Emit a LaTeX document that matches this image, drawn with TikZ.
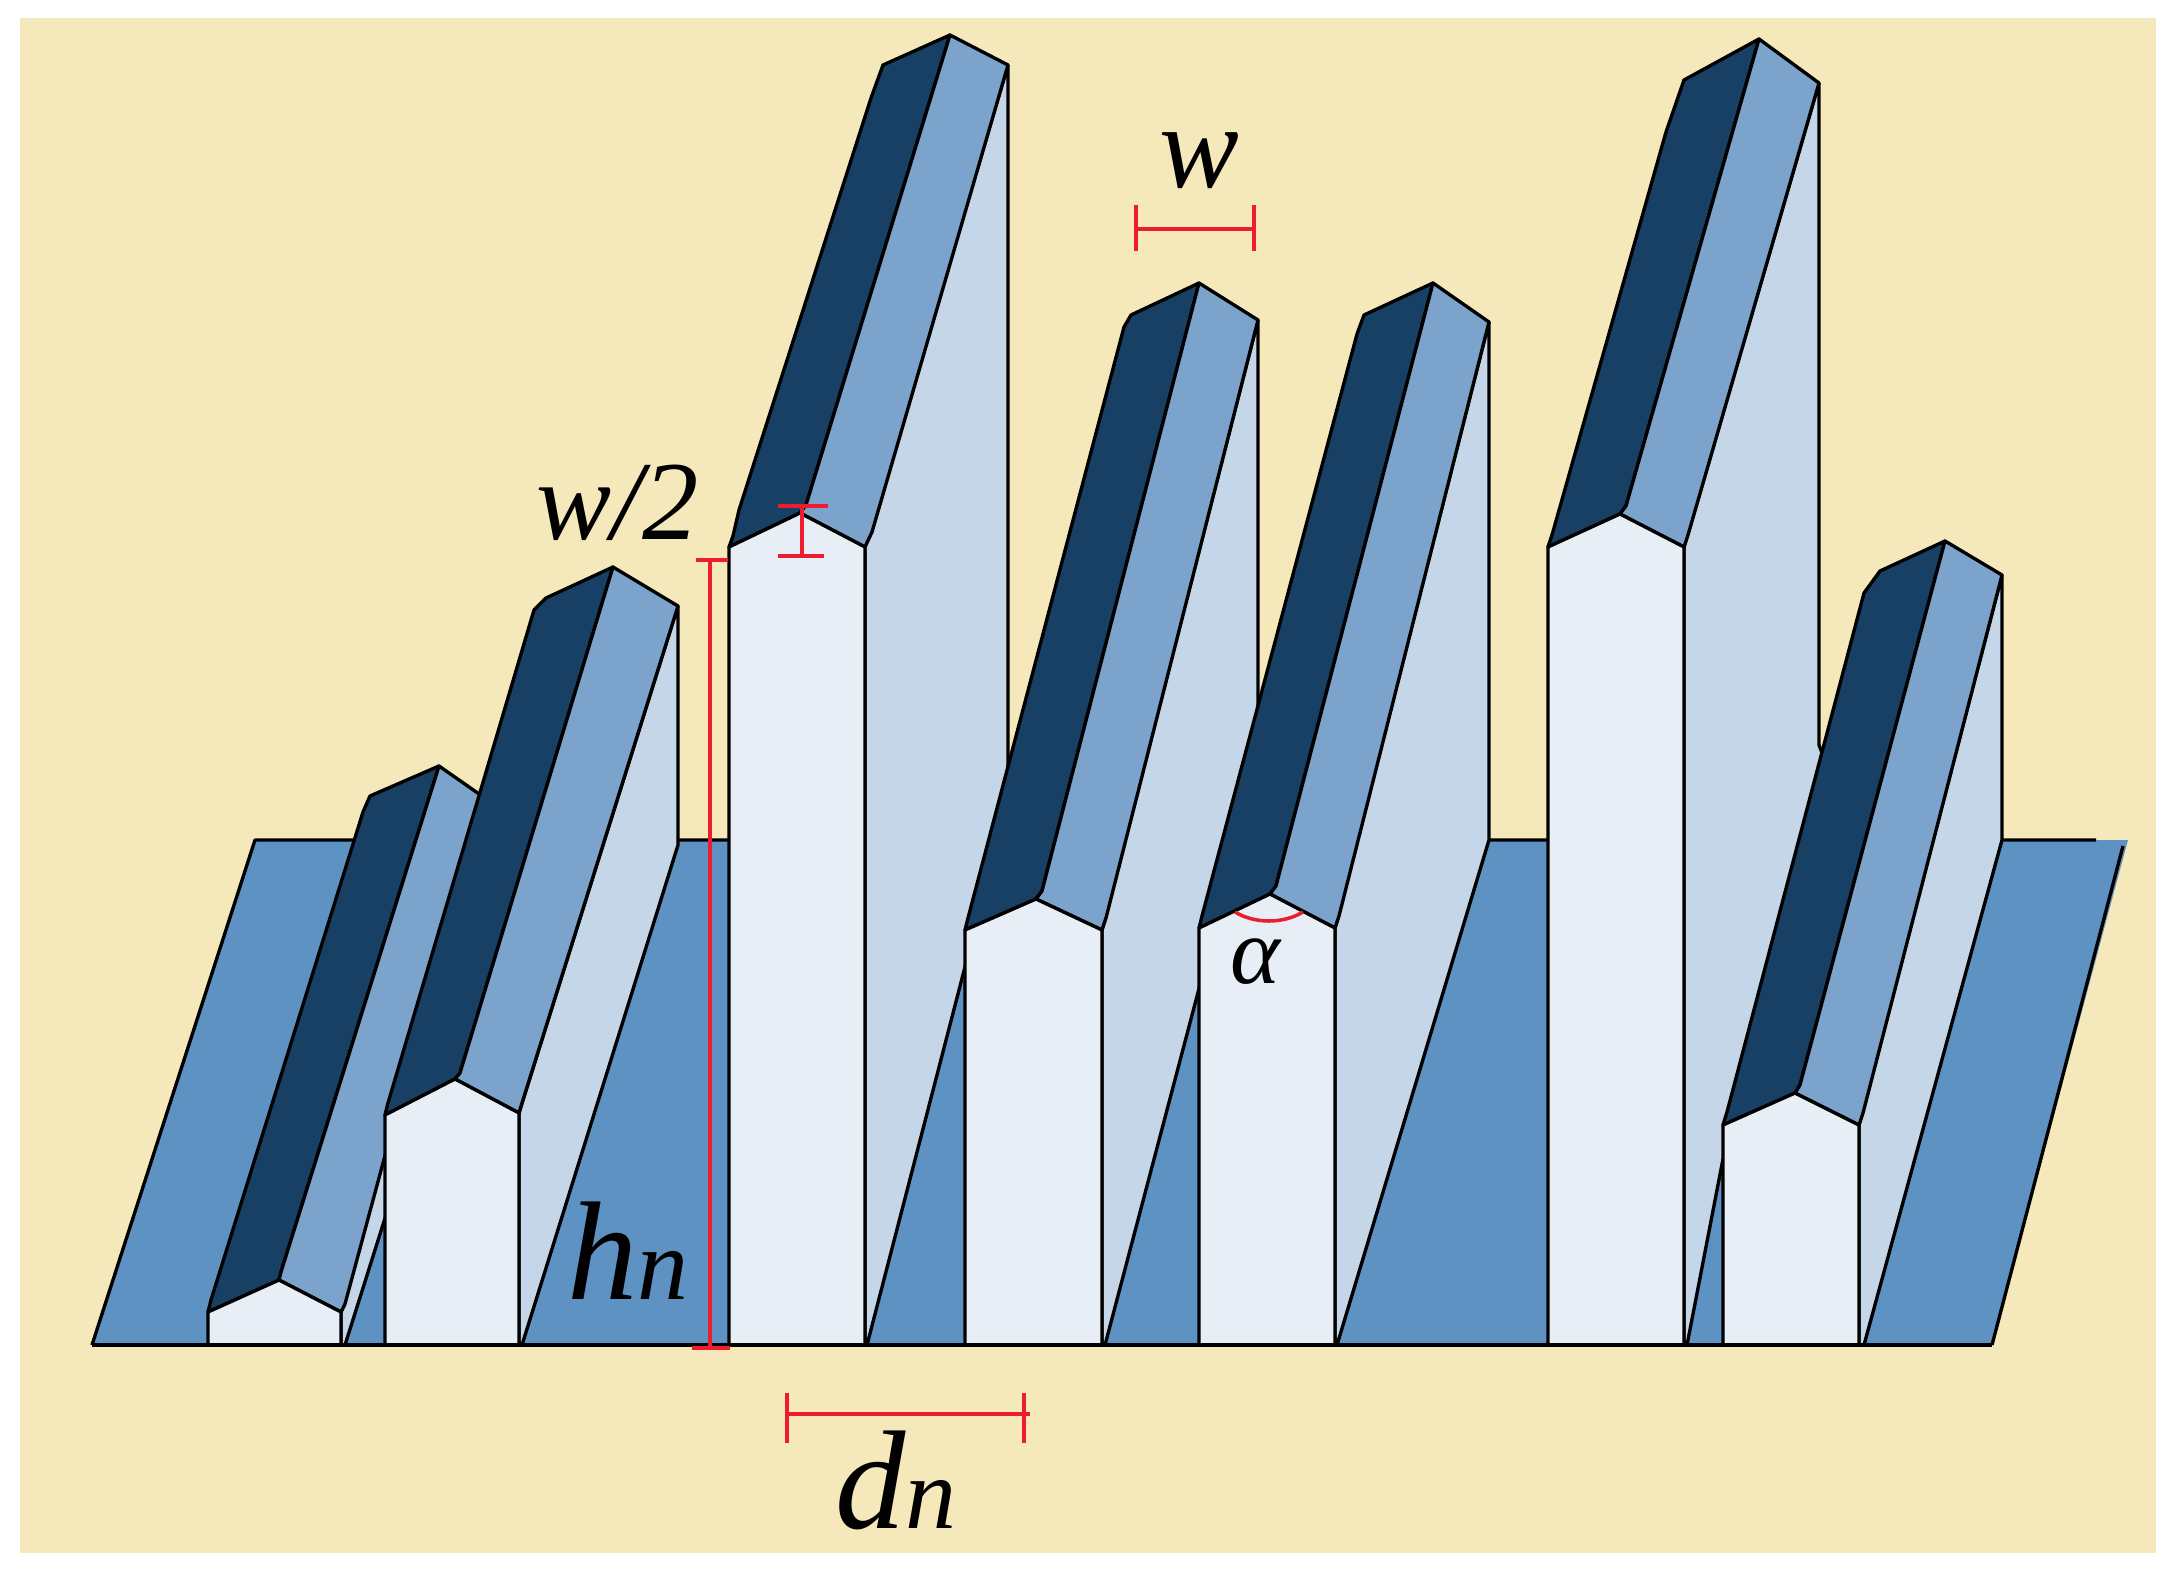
\documentclass[tikz,border=0pt]{standalone}
\usepackage{fontspec}
\setmainfont{Liberation Serif}
\definecolor{creamc}{HTML}{F5E8BA}
\definecolor{planec}{HTML}{5E92C2}
\definecolor{darkc}{HTML}{174064}
\definecolor{midc}{HTML}{7BA3CC}
\definecolor{sidec}{HTML}{C6D6E9}
\definecolor{frontc}{HTML}{E7EEF6}
\definecolor{redc}{HTML}{ED1C2E}
\newcommand{\lblbig}{\fontsize{40}{48}\selectfont\itshape}
\newcommand{\lblsub}{\fontsize{29}{34}\selectfont\itshape}
\tikzset{
  edge/.style={draw=black,line width=0.95pt,line join=round},
  sidef/.style={edge,fill=sidec},
  darkf/.style={edge,fill=darkc},
  midf/.style={edge,fill=midc},
  frontf/.style={edge,fill=frontc},
  planef/.style={fill=planec},
  dim/.style={draw=redc,line width=1pt},
  lab/.style={anchor=base west,inner sep=0pt,outer sep=0pt,text=black}
}
\begin{document}
\begin{tikzpicture}[x=0.01cm,y=-0.01cm]
\useasboundingbox (0,0) rectangle (2177,1569);
\fill[white] (0,0) rectangle (2177,1569);
\fill[creamc] (20,18) rectangle (2156,1553);
% ground plane
\fill[planef] (92,1345) -- (255,840) -- (2128,840) -- (1992,1345) -- cycle;
\draw[edge] (92,1345) -- (255,840) -- (2096,840);
\draw[edge] (2123,846) -- (1992,1345);
% prism 1
\path[sidef] (341,1312) -- (482,796) -- (482,911) -- (345,1345) -- (341,1345) -- cycle;
\path[darkf] (208,1312) -- (211,1300) -- (363,812) -- (370,796) -- (439,766) -- (281,1272) -- (279,1280) -- cycle;
\path[midf] (281,1272) -- (439,766) -- (482,796) -- (345,1304) -- (341,1312) -- (279,1280) -- cycle;
\path[frontf] (208,1345) -- (208,1312) -- (279,1280) -- (341,1312) -- (341,1345) -- cycle;
% prism 2
\path[sidef] (519,1113) -- (678,606) -- (678,845) -- (522,1345) -- (519,1345) -- cycle;
\path[darkf] (385,1115) -- (388,1103) -- (534,610) -- (546,598) -- (613,567) -- (460,1073) -- (455,1079) -- cycle;
\path[midf] (460,1073) -- (613,567) -- (678,606) -- (522,1103) -- (519,1113) -- (455,1079) -- cycle;
\path[frontf] (385,1345) -- (385,1115) -- (455,1079) -- (519,1113) -- (519,1345) -- cycle;
% prism 3
\path[sidef] (865,547) -- (1008,65) -- (1008,801) -- (867,1345) -- (865,1345) -- cycle;
\path[darkf] (729,547) -- (733,536) -- (739,510) -- (871,98) -- (883,65) -- (950,35) -- (806,505) -- (800,513) -- cycle;
\path[midf] (806,505) -- (950,35) -- (1008,65) -- (872,532) -- (865,547) -- (800,513) -- cycle;
\path[frontf] (729,1345) -- (729,547) -- (800,513) -- (865,547) -- (865,1345) -- cycle;
% prism 4
\path[sidef] (1102,930) -- (1258,320) -- (1258,765) -- (1105,1345) -- (1102,1345) -- cycle;
\path[darkf] (965,930) -- (968,918) -- (1124,327) -- (1131,315) -- (1199,283) -- (1042,891) -- (1036,899) -- cycle;
\path[midf] (1042,891) -- (1199,283) -- (1258,320) -- (1106,918) -- (1102,930) -- (1036,899) -- cycle;
\path[frontf] (965,1345) -- (965,930) -- (1036,899) -- (1102,930) -- (1102,1345) -- cycle;
% prism 5
\path[sidef] (1335,928) -- (1489,322) -- (1489,840) -- (1337,1345) -- (1335,1345) -- cycle;
\path[darkf] (1199,928) -- (1202,916) -- (1357,334) -- (1364,315) -- (1433,283) -- (1276,886) -- (1270,894) -- cycle;
\path[midf] (1276,886) -- (1433,283) -- (1489,322) -- (1339,916) -- (1335,928) -- (1270,894) -- cycle;
\path[frontf] (1199,1345) -- (1199,928) -- (1270,894) -- (1335,928) -- (1335,1345) -- cycle;
% prism 6
\path[sidef] (1684,547) -- (1819,83) -- (1819,745) -- (1840,800) -- (1800,1000) -- (1723,1159) -- (1687,1345) -- (1684,1345) -- cycle;
\path[darkf] (1548,547) -- (1552,535) -- (1666,132) -- (1684,80) -- (1759,39) -- (1626,506) -- (1620,514) -- cycle;
\path[midf] (1626,506) -- (1759,39) -- (1819,83) -- (1688,535) -- (1684,547) -- (1620,514) -- cycle;
\path[frontf] (1548,1345) -- (1548,547) -- (1620,514) -- (1684,547) -- (1684,1345) -- cycle;
% prism 7
\path[sidef] (1859,1125) -- (2002,575) -- (2002,840) -- (1864,1345) -- (1859,1345) -- cycle;
\path[darkf] (1723,1125) -- (1727,1112) -- (1864,593) -- (1880,571) -- (1945,541) -- (1800,1085) -- (1795,1093) -- cycle;
\path[midf] (1800,1085) -- (1945,541) -- (2002,575) -- (1863,1113) -- (1859,1125) -- (1795,1093) -- cycle;
\path[frontf] (1723,1345) -- (1723,1125) -- (1795,1093) -- (1859,1125) -- (1859,1345) -- cycle;
% ground front line
\draw[edge] (92,1345) -- (1992,1345);
% red dimensions
\draw[dim] (1136,229) -- (1254,229);
\draw[dim] (1136,205) -- (1136,251);
\draw[dim] (1254,205) -- (1254,251);
\draw[dim] (778,506) -- (828,506);
\draw[dim] (778,556) -- (824,556);
\draw[dim] (802,506) -- (802,556);
\draw[dim] (696,560) -- (728,560);
\draw[dim] (710,560) -- (710,1348);
\draw[dim,line width=1.3pt] (692,1348) -- (730,1348);
\draw[dim] (787,1414) -- (1030,1414);
\draw[dim] (787,1393) -- (787,1443);
\draw[dim] (1024,1393) -- (1024,1443);
\draw[dim] (1235,912) .. controls (1255,924) and (1283,924) .. (1303,912);
% labels
\node[lab] (lw) at (1159,187) {\fontsize{34}{40}\selectfont\itshape w};
\node[lab] (lwh) at (536,539) {\fontsize{32}{38}\selectfont\itshape w/2};
\node[lab] (lh) at (567,1299) {\lblbig h\lblsub n};
\node[lab] (ld) at (835,1528) {\lblbig d\lblsub n};
\node[lab] (la) at (1230,983) {\fontsize{27}{32}\selectfont\itshape α};
\end{tikzpicture}
\end{document}
